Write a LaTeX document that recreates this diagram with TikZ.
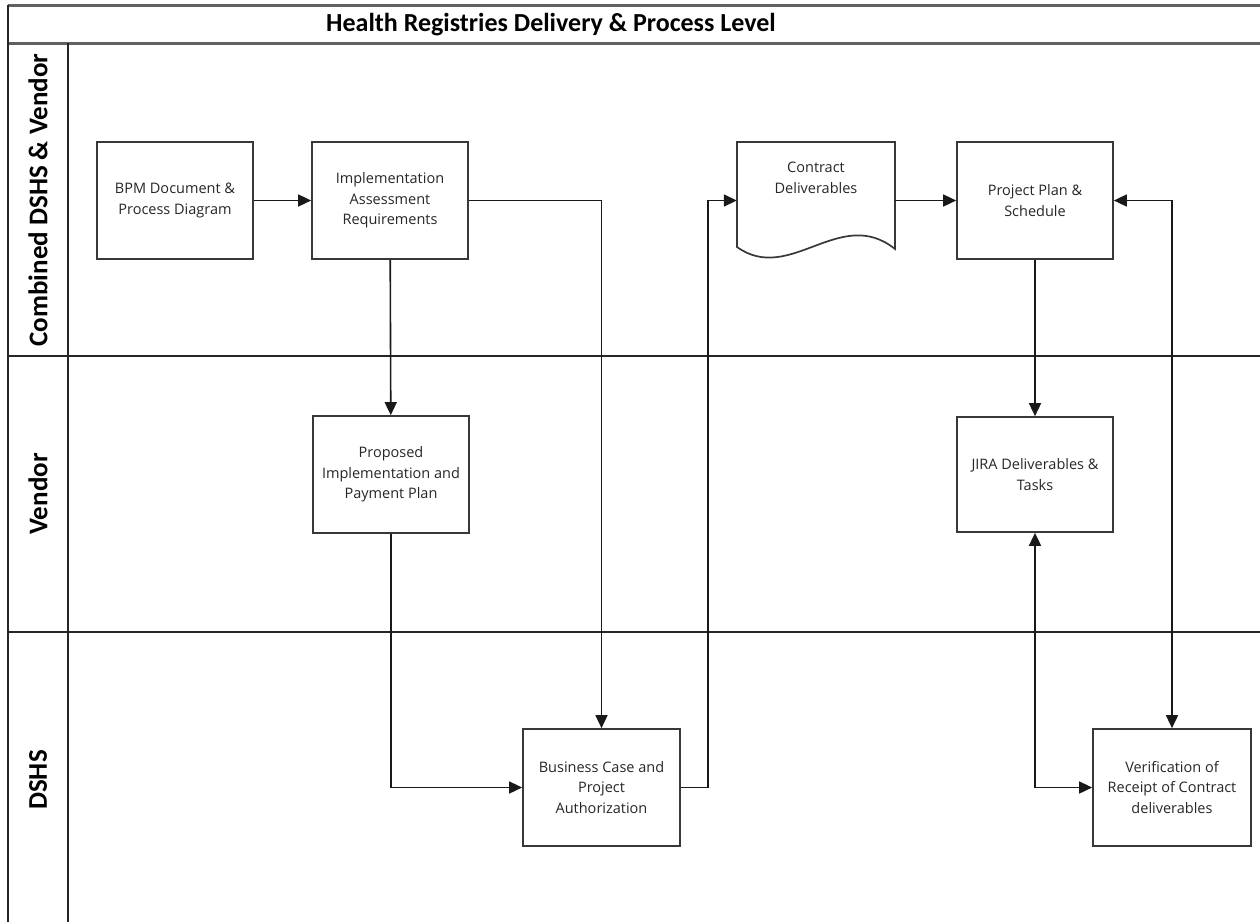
\documentclass[tikz,border=0pt]{standalone}
\usepackage{fontspec}
\setmainfont{Open Sans}
\newfontfamily\headfont{Carlito}
\usetikzlibrary{arrows.meta}

\begin{document}
\begin{tikzpicture}[x=1pt,y=-1pt,
  headrule/.style={line width=3pt, draw=black!62},
  lanerule/.style={line width=1.6pt, draw=black!85},
  boxline/.style={line width=1.7pt, draw=black!78},
  procbox/.style={boxline, rectangle, minimum width=156pt, minimum height=117pt,
    align=center, inner sep=2pt, font=\fontsize{14.5}{20.5}\selectfont, text=black!85},
  docarea/.style={rectangle, minimum width=158pt, minimum height=117pt, inner sep=0pt},
  doctext/.style={align=center, inner sep=0pt, font=\fontsize{14.5}{20.5}\selectfont, text=black!85},
  lanelabel/.style={rotate=90, inner sep=0pt, font=\headfont\bfseries\fontsize{27}{30}\selectfont},
  titletext/.style={inner sep=0pt, font=\headfont\bfseries\fontsize{26}{30}\selectfont},
  tip/.tip={Triangle[length=13pt,width=12pt]},
  flow/.style={draw=black!90, line width=1.6pt, -tip},
  biflow/.style={draw=black!90, line width=1.6pt, tip-tip},
]
\useasboundingbox (0,0) rectangle (1260,922);

% swimlane frame
\draw[headrule] (8,5) -- (1260,5);
\draw[headrule] (8,43) -- (1260,43);
\draw[lanerule] (8,5) -- (8,922);
\draw[lanerule] (68,43) -- (68,922);
\draw[lanerule] (8,356) -- (1260,356);
\draw[lanerule] (8,632) -- (1260,632);

\node[titletext] (title) at (551,25) {Health Registries Delivery \& Process Level};
\node[lanelabel] (lane1) at (38,200) {Combined DSHS \& Vendor};
\node[lanelabel] (lane2) at (38,494) {Vendor};
\node[lanelabel] (lane3) at (38,780) {DSHS};

% process steps
\node[procbox] (bpm)  at (175,200.5)  {BPM Document \&\\Process Diagram};
\node[procbox] (impl) at (390,200.5)  {Implementation\\Assessment\\Requirements};
\node[procbox] (plan) at (1035,200.5) {Project Plan \&\\Schedule};
\node[procbox] (prop) at (391,474.5)  {Proposed\\Implementation and\\Payment Plan};
\node[procbox, minimum height=115pt] (jira) at (1035,474.5) {JIRA Deliverables \&\\Tasks};
\node[procbox, minimum width=157pt] (biz) at (601.5,787.5) {Business Case and\\Project\\Authorization};
\node[procbox, minimum width=158pt] (verif) at (1172,787.5) {Verification of\\Receipt of Contract\\deliverables};

% document shape with wavy bottom
\node[docarea] (contract) at (816,200.5) {};
\node[doctext] (contracttext) at (816,178) {Contract\\Deliverables};
\draw[boxline, line join=miter] (737,247) -- (737,142) -- (895,142) -- (895,249)
  .. controls (840,205) and (790,285) .. (737,247) -- cycle;

% connectors
\coordinate (riser) at (708,500);
\draw[flow] (bpm) -- (impl);
\draw[flow] (impl.east) -| (biz.north);
\draw[flow] (impl) -- (prop);
\draw[flow] (prop.south) |- (biz.west);
\draw[flow] (biz.east) -| (riser) |- (contract.west);
\draw[flow] (contract) -- (plan);
\draw[flow] (plan) -- (jira);
\draw[biflow] (plan.east) -| (verif.north);
\draw[biflow] (jira.south) |- (verif.west);
\end{tikzpicture}
\end{document}
